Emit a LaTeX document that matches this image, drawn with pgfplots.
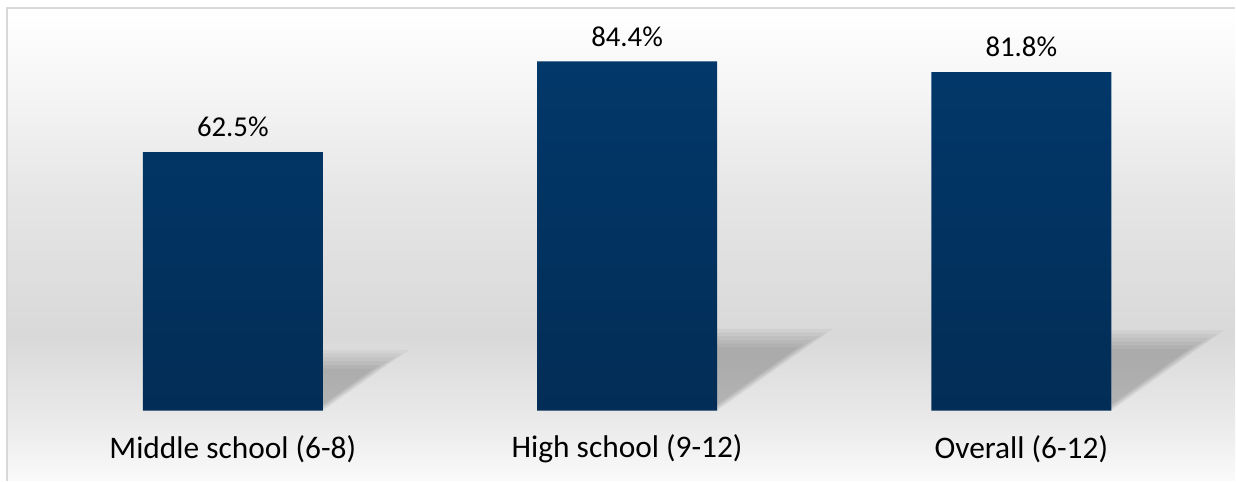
\documentclass[border=0pt]{standalone}
\usepackage{pgfplots}
\pgfplotsset{compat=1.18}
\usepackage{fontspec}
\setmainfont{Carlito}
\definecolor{barTop}{HTML}{02386A}
\definecolor{barBot}{HTML}{022D56}
\definecolor{frame}{HTML}{D9D9D9}
\pgfdeclareverticalshading{bgshade}{100bp}{color(0bp)=(white!98!black); color(25bp)=(white!98!black); color(31bp)=(white!92!black); color(40.4bp)=(white!85!black); color(55bp)=(white!90!black); color(68bp)=(white!97!black); color(75bp)=(white); color(100bp)=(white)}
\begin{document}
\begin{tikzpicture}
\begin{axis}[
  scale only axis, width=614.5pt, height=236.5pt,
  xmin=-0.5729, xmax=2.5425, ymin=-16.9, ymax=97.3,
  axis line style={draw=none},
  tick style={draw=none},
  major tick length=0pt,
  axis background/.style={shade, shading=bgshade},
  xtick={0,1,2},
  xticklabels={Middle school (6-8), High school (9-12), Overall (6-12)},
  xticklabel style={anchor=center, yshift=16pt, font=\fontsize{15.7}{18}\selectfont},
  ytick=\empty,
  clip=false,
  /pgf/number format/assume math mode=true,
  shadow/.style={draw=none, fill=black, fill opacity=0.04},
]
% shadows (soft layers)
\addplot[shadow] coordinates {(0.2281,0.0) (0.2281,14.7) (0.447,14.7) (0.2281,0.0)};
\addplot[shadow] coordinates {(0.2281,0.3) (0.2281,13.8) (0.429,13.8) (0.2281,0.3)};
\addplot[shadow] coordinates {(0.2281,0.6) (0.2281,12.9) (0.411,12.9) (0.2281,0.6)};
\addplot[shadow] coordinates {(0.2281,0.9) (0.2281,12.0) (0.393,12.0) (0.2281,0.9)};
\addplot[shadow] coordinates {(0.2281,1.2) (0.2281,11.1) (0.375,11.1) (0.2281,1.2)};
\addplot[shadow] coordinates {(0.2281,1.5) (0.2281,10.2) (0.357,10.2) (0.2281,1.5)};
\addplot[shadow] coordinates {(1.2281,0.0) (1.2281,19.8) (1.523,19.8) (1.2281,0.0)};
\addplot[shadow] coordinates {(1.2281,0.3) (1.2281,18.9) (1.505,18.9) (1.2281,0.3)};
\addplot[shadow] coordinates {(1.2281,0.6) (1.2281,18.0) (1.487,18.0) (1.2281,0.6)};
\addplot[shadow] coordinates {(1.2281,0.9) (1.2281,17.1) (1.469,17.1) (1.2281,0.9)};
\addplot[shadow] coordinates {(1.2281,1.2) (1.2281,16.2) (1.451,16.2) (1.2281,1.2)};
\addplot[shadow] coordinates {(1.2281,1.5) (1.2281,15.3) (1.433,15.3) (1.2281,1.5)};
\addplot[shadow] coordinates {(2.2281,0.0) (2.2281,19.4) (2.514,19.4) (2.2281,0.0)};
\addplot[shadow] coordinates {(2.2281,0.3) (2.2281,18.5) (2.496,18.5) (2.2281,0.3)};
\addplot[shadow] coordinates {(2.2281,0.6) (2.2281,17.6) (2.478,17.6) (2.2281,0.6)};
\addplot[shadow] coordinates {(2.2281,0.9) (2.2281,16.7) (2.460,16.7) (2.2281,0.9)};
\addplot[shadow] coordinates {(2.2281,1.2) (2.2281,15.8) (2.442,15.8) (2.2281,1.2)};
\addplot[shadow] coordinates {(2.2281,1.5) (2.2281,14.9) (2.424,14.9) (2.2281,1.5)};
% bars
\addplot[ybar, bar width=90pt, draw=none, top color=barTop, bottom color=barBot,
  nodes near coords={\pgfmathprintnumber[fixed,fixed zerofill,precision=1]{\pgfplotspointmeta}\%},
  every node near coord/.append style={anchor=center, yshift=12.5pt, font=\fontsize{14.4}{17}\selectfont, text=black}]
  coordinates {(0,62.5) (1,84.4) (2,81.8)};
\draw[frame, line width=0.8pt] (rel axis cs:0,0) -- (rel axis cs:0,1) -- (rel axis cs:1,1);
\path (rel axis cs:0,1) ++(-3.5pt,4pt) coordinate (bbtl);
\path (bbtl) -- (bbtl);
\end{axis}
\end{tikzpicture}
\end{document}
